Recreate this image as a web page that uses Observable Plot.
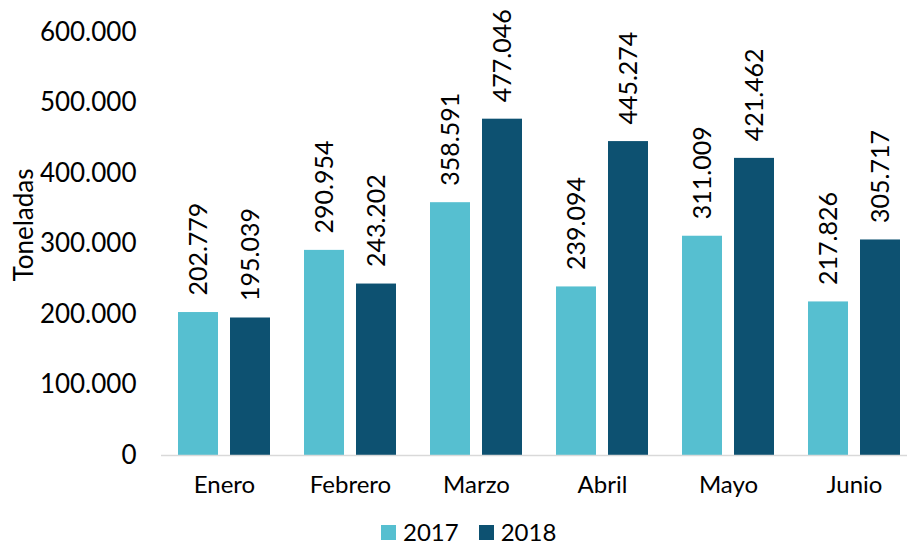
<!DOCTYPE html>
<html>
<head>
<meta charset="utf-8">
<script src="https://cdn.jsdelivr.net/npm/d3@7"></script>
<script src="https://cdn.jsdelivr.net/npm/@observablehq/plot@0.6"></script>
<style>
  body { margin: 0; background: #fff; font-family: Lato, sans-serif; }
  #wrap { position: relative; width: 907px; height: 548px; overflow: hidden; }
  #legend { position: absolute; left: 381px; top: 521px; display: flex; align-items: center; font-size: 24px; line-height: 22px; color: #000; }
  .sw { width: 15px; height: 15px; display: inline-block; margin-right: 7px; }
  .item { display: flex; align-items: center; margin-right: 20px; }
  #ylabel { position: absolute; left: 23px; top: 225px; transform: translate(-50%, -50%) rotate(-90deg); white-space: nowrap; font-size: 26px; line-height: 26px; color: #000; }
  g[aria-label="y-axis tick label"] { font-size: 26px; }
</style>
</head>
<body>
<div id="wrap"><div id="chart"></div><div id="ylabel"></div><div id="legend"></div></div>
<script>
const months = ["Enero", "Febrero", "Marzo", "Abril", "Mayo", "Junio"];
const years = ["2017", "2018"];
const values2017 = [202779, 290954, 358591, 239094, 311009, 217826];
const values2018 = [195039, 243202, 477046, 445274, 421462, 305717];
const yTicks = [0, 100000, 200000, 300000, 400000, 500000, 600000];
const yTitle = "Toneladas";
const colors = ["#56BFD0", "#0D5171"];

const data = [];
months.forEach((m, i) => {
  data.push({month: m, year: "2017", value: values2017[i]});
  data.push({month: m, year: "2018", value: values2018[i]});
});

const fmt = d => d3.format(",")(d).replace(/,/g, ".");

const chart = Plot.plot({
  width: 907,
  height: 520,
  marginLeft: 160,
  marginRight: 0,
  marginTop: 32,
  marginBottom: 65,
  style: {fontFamily: "Lato, sans-serif", fontSize: "24px", color: "#000", background: "#fff"},
  fx: {domain: months, range: [160, 917], padding: 0, axis: "bottom", tickSize: 0, tickPadding: 20, label: null},
  x: {domain: years, paddingInner: 0.2264, paddingOuter: 0.3026, axis: null},
  y: {domain: [0, 600000], ticks: yTicks, tickFormat: fmt, tickSize: 0, tickPadding: 25, label: null},
  color: {domain: years, range: colors},
  marks: [
    Plot.barY(data, {fx: "month", x: "year", y: "value", fill: "year"}),
    Plot.ruleY([0], {stroke: "#d9d9d9", strokeWidth: 1.5}),
    Plot.text(data, {fx: "month", x: "year", y: "value", text: d => fmt(d.value), rotate: -90, textAnchor: "start", dy: -17, fill: "#000", fontSize: 25})
  ]
});
document.getElementById("chart").appendChild(chart);
document.getElementById("ylabel").textContent = yTitle;

const legend = document.getElementById("legend");
years.forEach((y, i) => {
  const item = document.createElement("div");
  item.className = "item";
  item.innerHTML = `<span class="sw" style="background:${colors[i]}"></span><span>${y}</span>`;
  legend.appendChild(item);
});
</script>
</body>
</html>
